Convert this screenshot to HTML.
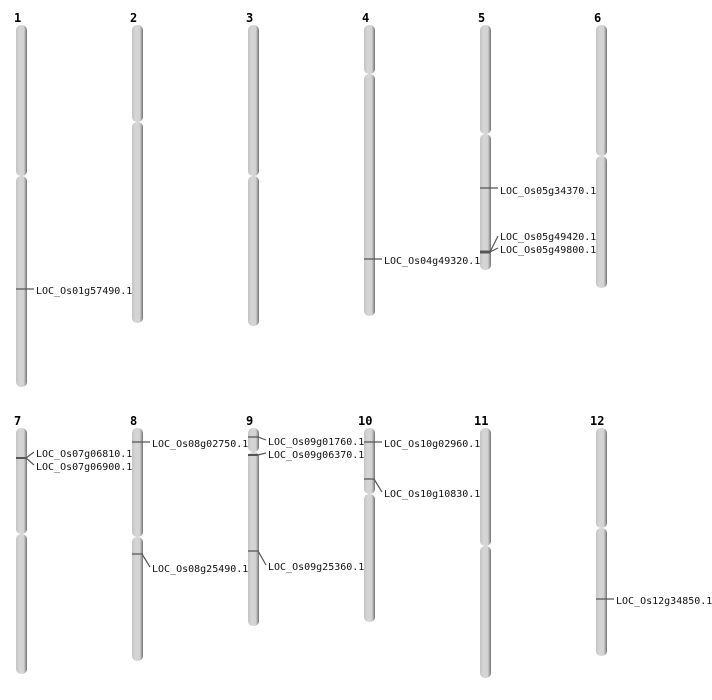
<!DOCTYPE html>
<html><head><meta charset="utf-8"><style>
html,body{margin:0;padding:0;background:#fff;}
svg{display:block;}
text{font-family:"DejaVu Sans Mono","Liberation Mono",monospace;}
.n{font-size:12px;font-weight:bold;fill:#000;}
.l{font-size:10px;fill:#111;}
.m{stroke:#555;stroke-width:1.2;fill:none;}
</style></head><body>
<svg width="712" height="700" viewBox="0 0 712 700" xmlns="http://www.w3.org/2000/svg">
<defs>
<linearGradient id="g" x1="0" x2="1" y1="0" y2="0">
<stop offset="0" stop-color="#c4c4c4"/>
<stop offset="0.35" stop-color="#d6d6d6"/>
<stop offset="0.7" stop-color="#d2d2d2"/>
<stop offset="0.85" stop-color="#a8a8a8"/>
<stop offset="1" stop-color="#6e6e6e"/>
</linearGradient>
</defs>
<g fill="url(#g)">
<rect x="16" y="25" width="11" height="151" rx="5"/><rect x="16" y="176" width="11" height="211" rx="5"/>
<rect x="132" y="25" width="11" height="97" rx="5"/><rect x="132" y="122" width="11" height="201" rx="5"/>
<rect x="248" y="25" width="11" height="151" rx="5"/><rect x="248" y="176" width="11" height="150" rx="5"/>
<rect x="364" y="25" width="11" height="49" rx="5"/><rect x="364" y="74" width="11" height="242" rx="5"/>
<rect x="480" y="25" width="11" height="109" rx="5"/><rect x="480" y="134" width="11" height="136" rx="5"/>
<rect x="596" y="25" width="11" height="131" rx="5"/><rect x="596" y="156" width="11" height="132" rx="5"/>
<rect x="16" y="428" width="11" height="106" rx="5"/><rect x="16" y="534" width="11" height="140" rx="5"/>
<rect x="132" y="428" width="11" height="109" rx="5"/><rect x="132" y="537" width="11" height="124" rx="5"/>
<rect x="248" y="428" width="11" height="24" rx="5"/><rect x="248" y="452" width="11" height="174" rx="5"/>
<rect x="364" y="428" width="11" height="66" rx="5"/><rect x="364" y="494" width="11" height="128" rx="5"/>
<rect x="480" y="428" width="11" height="118" rx="5"/><rect x="480" y="546" width="11" height="132" rx="5"/>
<rect x="596" y="428" width="11" height="100" rx="5"/><rect x="596" y="528" width="11" height="128" rx="5"/>
</g>
<g class="n">
<text x="14" y="22">1</text><text x="130" y="22">2</text><text x="246" y="22">3</text><text x="362" y="22">4</text><text x="478" y="22">5</text><text x="594" y="22">6</text>
<text x="14" y="425">7</text><text x="130" y="425">8</text><text x="246" y="425">9</text><text x="358" y="425">10</text><text x="474" y="425">11</text><text x="590" y="425">12</text>
</g>
<g class="m">
<path d="M16 289H34"/>
<path d="M364 259H382"/>
<path d="M480 188H498"/>
<path d="M480 252H490L498 236M490 252L498 248"/>
<path d="M480 252H490" stroke-width="3"/>
<path d="M16 458H26L34 452M26 458L34 465"/>
<path d="M16 458H26" stroke-width="2"/>
<path d="M132 442H150"/>
<path d="M132 554H142L150 567"/>
<path d="M248 437H258L266 440"/>
<path d="M248 455H258L266 453"/>
<path d="M248 455H258" stroke-width="2"/>
<path d="M248 551H258L266 565"/>
<path d="M364 442H382"/>
<path d="M364 479H374L382 492"/>
<path d="M596 599H614"/>
</g>
<g class="l" dominant-baseline="middle">
<text x="36" y="291">LOC_Os01g57490.1</text>
<text x="384" y="261">LOC_Os04g49320.1</text>
<text x="500" y="191">LOC_Os05g34370.1</text>
<text x="500" y="237">LOC_Os05g49420.1</text>
<text x="500" y="250">LOC_Os05g49800.1</text>
<text x="36" y="454">LOC_Os07g06810.1</text>
<text x="36" y="467">LOC_Os07g06900.1</text>
<text x="152" y="444">LOC_Os08g02750.1</text>
<text x="152" y="569">LOC_Os08g25490.1</text>
<text x="268" y="442">LOC_Os09g01760.1</text>
<text x="268" y="455">LOC_Os09g06370.1</text>
<text x="268" y="567">LOC_Os09g25360.1</text>
<text x="384" y="444">LOC_Os10g02960.1</text>
<text x="384" y="494">LOC_Os10g10830.1</text>
<text x="616" y="601">LOC_Os12g34850.1</text>
</g>
</svg>
</body></html>
